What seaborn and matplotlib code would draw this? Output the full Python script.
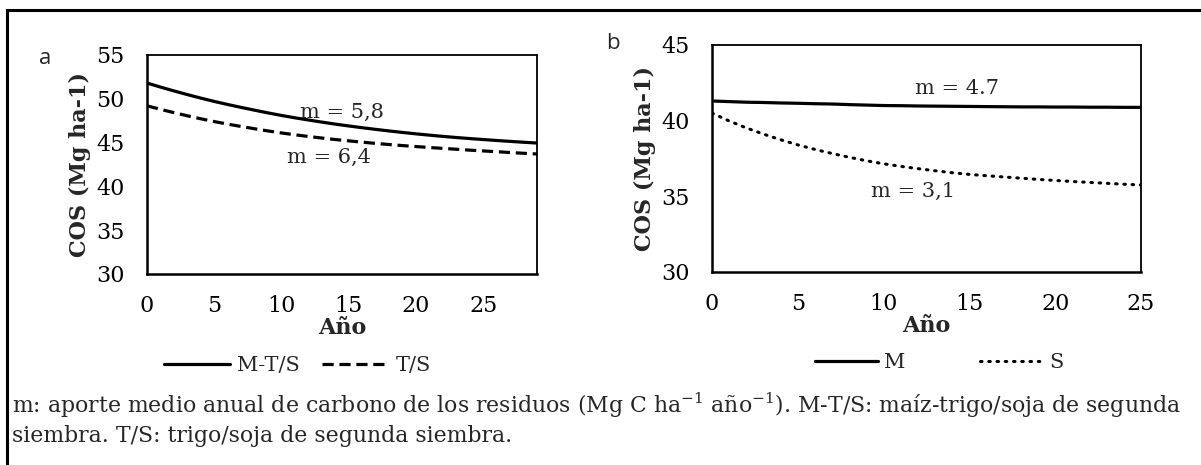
import matplotlib
matplotlib.use("Agg")
import matplotlib.pyplot as plt
import pandas as pd
import seaborn as sns
from matplotlib.patches import Rectangle
from matplotlib.lines import Line2D

# Panel a: years and COS values
years_a = list(range(0, 30))
cos_mts = [51.8, 51.34, 50.90, 50.48, 50.08, 49.70, 49.35, 49.02, 48.70, 48.39,
           48.10, 47.83, 47.58, 47.34, 47.11, 46.90, 46.70, 46.51, 46.33, 46.16,
           46.00, 45.85, 45.71, 45.58, 45.46, 45.35, 45.24, 45.14, 45.04, 44.95]
cos_ts = [49.2, 48.80, 48.42, 48.06, 47.72, 47.40, 47.11, 46.84, 46.58, 46.33,
          46.10, 45.89, 45.70, 45.52, 45.35, 45.20, 45.05, 44.91, 44.78, 44.66,
          44.55, 44.44, 44.34, 44.24, 44.14, 44.05, 43.96, 43.87, 43.78, 43.70]

# Panel b
years_b = list(range(0, 26))
cos_m = [41.3, 41.26, 41.22, 41.2, 41.17, 41.15, 41.12, 41.1, 41.06, 41.03,
         41.0, 40.99, 40.97, 40.96, 40.95, 40.94, 40.93, 40.92, 40.91, 40.91,
         40.9, 40.9, 40.89, 40.89, 40.88, 40.88]
cos_s = [40.5, 39.98, 39.52, 39.11, 38.74, 38.40, 38.10, 37.83, 37.58, 37.35,
         37.15, 36.98, 36.83, 36.69, 36.56, 36.45, 36.36, 36.28, 36.20, 36.12,
         36.05, 35.98, 35.92, 35.86, 35.80, 35.75]

labels_a = ["M-T/S", "T/S"]
labels_b = ["M", "S"]
notes_a = ["m = 5,8", "m = 6,4"]
notes_b = ["m = 4.7", "m = 3,1"]
footer = ("m: aporte medio anual de carbono de los residuos (Mg C ha$^{-1}$ año$^{-1}$). "
          "M-T/S: maíz-trigo/soja de segunda\nsiembra. T/S: trigo/soja de segunda siembra.")

sns.set_style("white")
plt.rcParams['font.family'] = ['DejaVu Serif']
plt.rcParams['mathtext.fontset'] = 'dejavuserif'

W, H = 1201, 465
fig = plt.figure(figsize=(W / 100, H / 100), dpi=100)

ax_a = fig.add_axes([147 / W, (H - 274) / H, 390 / W, 219 / H])
ax_b = fig.add_axes([712 / W, (H - 272) / H, 429 / W, 227 / H])

df_a = pd.DataFrame({"year": years_a, "mts": cos_mts, "ts": cos_ts})
df_b = pd.DataFrame({"year": years_b, "m": cos_m, "s": cos_s})

dash = (0, (3.5, 1.8))
dots = (0, (0.5, 2.2))

sns.lineplot(data=df_a, x="year", y="mts", ax=ax_a, color="black", lw=2.3)
sns.lineplot(data=df_a, x="year", y="ts", ax=ax_a, color="black", lw=2.3,
             linestyle=dash)
sns.lineplot(data=df_b, x="year", y="m", ax=ax_b, color="black", lw=2.3)
sns.lineplot(data=df_b, x="year", y="s", ax=ax_b, color="black", lw=2.2,
             linestyle=dots, dash_capstyle="round")

for ax in (ax_a, ax_b):
    for s in ["left", "bottom"]:
        ax.spines[s].set_linewidth(1.8)
    for s in ["top", "right"]:
        ax.spines[s].set_linewidth(1.3)
    for s in ax.spines.values():
        s.set_color("black")
    ax.tick_params(axis="both", direction="out", length=6, width=1.5,
                   labelsize=16, pad=10, colors="black")
    ax.tick_params(axis="x", pad=9)
    ax.set_xlabel("Año", fontsize=16, fontweight="bold", labelpad=0)
    ax.set_ylabel("COS (Mg ha-1)", fontsize=16, fontweight="bold", labelpad=4)

ax_a.set_xlim(0, 29)
ax_a.set_ylim(30, 55)
ax_a.set_xticks([0, 5, 10, 15, 20, 25])
ax_a.set_yticks([30, 35, 40, 45, 50, 55])

ax_b.set_xlim(0, 25)
ax_b.set_ylim(30, 45)
ax_b.set_xticks([0, 5, 10, 15, 20, 25])
ax_b.set_yticks([30, 35, 40, 45])

# curve notes
ax_a.text(14.5, 48.5, notes_a[0], fontsize=15, ha="center", va="center")
ax_a.text(13.5, 43.35, notes_a[1], fontsize=15, ha="center", va="center")
ax_b.text(14.3, 42.1, notes_b[0], fontsize=15, ha="center", va="center")
ax_b.text(11.7, 35.35, notes_b[1], fontsize=15, ha="center", va="center")

# panel letters
fig.text(45 / W, 1 - 58 / H, "a", fontsize=16, family="Open Sans", ha="center", va="center")
fig.text(613 / W, 1 - 43 / H, "b", fontsize=16, family="Open Sans", ha="center", va="center")

# legends
h_a = [Line2D([], [], color="black", lw=2.3),
       Line2D([], [], color="black", lw=2.3, linestyle=dash)]
ax_a.legend(h_a, labels_a, loc="center", bbox_to_anchor=(0.385, -0.42), ncol=2,
            frameon=False, fontsize=15, handlelength=3.2, handletextpad=0.3,
            columnspacing=1.1, borderaxespad=0)
h_b = [Line2D([], [], color="black", lw=2.3),
       Line2D([], [], color="black", lw=2.2, linestyle=dots, dash_capstyle="round")]
ax_b.legend(h_b, labels_b, loc="center", bbox_to_anchor=(0.53, -0.40), ncol=2,
            frameon=False, fontsize=15, handlelength=3.0, handletextpad=0.3,
            columnspacing=3.6, borderaxespad=0)

# footer note
fig.text(12 / W, 1 - 419 / H, footer, fontsize=15.8, ha="left", va="center",
         linespacing=1.3)

# outer frame
fig.add_artist(Rectangle((7 / W, -0.1), 1.2, (H - 10) / H + 0.1,
                         transform=fig.transFigure, fill=False, lw=2.2,
                         edgecolor="black"))

fig.savefig("out.png", dpi=100)
